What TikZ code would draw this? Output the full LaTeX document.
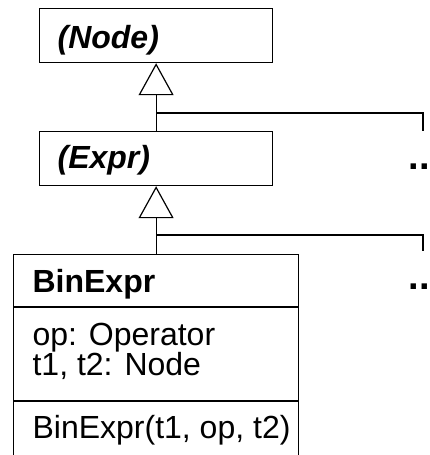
\documentclass[tikz,border=0pt]{standalone}
\usepackage{fontspec}
\setmainfont{Liberation Sans}
\usetikzlibrary{arrows.meta}
\begin{document}
\begin{tikzpicture}[x=1pt,y=-1pt,line width=1.2pt,
  classbox/.style={draw,rectangle,inner sep=0pt,anchor=north west},
  cname/.style={anchor=base west,inner sep=0pt,font=\fontsize{32}{36}\selectfont\bfseries},
  member/.style={anchor=base west,inner sep=0pt,font=\fontsize{32}{36}\selectfont},
  inherit/.style={-{Triangle[open,length=32pt,width=35pt,fill=white]}},
  more/.style={anchor=base west,inner sep=0pt,font=\fontsize{38}{40}\selectfont\bfseries}]
  \useasboundingbox (0,0) rectangle (430,455);
  \clip (0,0) rectangle (430,455);

  % abstract classes
  \node[classbox,minimum width=233pt,minimum height=54pt] (node) at (39,8) {};
  \node[cname] (nodetxt) at (57,48) {\itshape(Node)};
  \node[classbox,minimum width=233pt,minimum height=54pt] (expr) at (39,131) {};
  \node[cname] (exprtxt) at (57,168) {\itshape(Expr)};

  % concrete class with attribute and operation compartments
  \node[classbox,minimum width=285pt,minimum height=220pt] (bin) at (13,254) {};
  \coordinate (d1w) at (13,307);  \coordinate (d1e) at (298,307);
  \coordinate (d2w) at (13,401);  \coordinate (d2e) at (298,401);
  \draw (d1w) -- (d1e);
  \draw (d2w) -- (d2e);
  \node[cname] (bintxt) at (32,292) {BinExpr};
  \node[member] (attr1) at (32,345) {op: Operator};
  \node[member] (attr2) at (32,375) {t1, t2: Node};
  \node[member] (ctor) at (32,438) {BinExpr(t1, op, t2)};

  % generalisation arrows with branches to further subclasses
  \draw[inherit] (expr.north) -- (node.south);
  \coordinate (j1) at (expr.north |- 0,113);
  \coordinate (e1) at (423,131);
  \draw (j1) -| (e1);
  \node[more] (more1) at (408,169) {..};

  \draw[inherit] (bin.north) -- (expr.south);
  \coordinate (j2) at (bin.north |- 0,235);
  \coordinate (e2) at (423,251);
  \draw (j2) -| (e2);
  \node[more] (more2) at (408,289) {..};
\end{tikzpicture}
\end{document}
